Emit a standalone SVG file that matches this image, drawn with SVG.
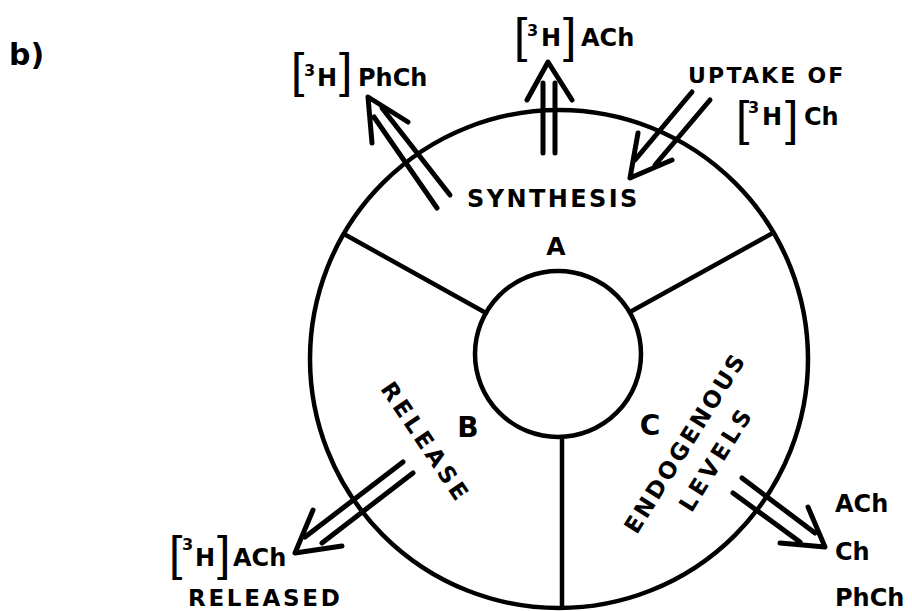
<svg xmlns="http://www.w3.org/2000/svg" width="912" height="611" viewBox="0 0 912 611">
  <style>
    text { font-family: "DejaVu Sans", "Liberation Sans", sans-serif; font-weight: bold; fill: #000; }
    .t { font-size: 24px; }
    .sup { font-size: 16px; }
    .br { font-family: "Liberation Sans", Arial, sans-serif; font-size: 48px; font-weight: normal; }
    .ln { fill: none; stroke: #000; stroke-width: 4.5; stroke-linecap: round; stroke-linejoin: round; }
    .arr { fill: none; stroke: #000; stroke-width: 5; stroke-linecap: round; stroke-linejoin: round; }
  </style>
  <rect width="912" height="611" fill="#fff"/>

  <!-- panel tag -->
  <text x="9" y="65" style="font-size:30px">b)</text>

  <!-- ring divided into three sectors around a central compartment -->
  <g id="ring">
    <circle class="ln" cx="559" cy="359" r="249"/>
    <circle class="ln" cx="558" cy="354" r="83"/>
    <path class="ln" d="M344,234 L486,313 M771,234 L630,312 M562,437 L562,607"/>
  </g>

  <g id="sector-a">
    <text x="556" y="255" text-anchor="middle" style="font-size:25px">A</text>
    <text class="t" x="467" y="207" style="letter-spacing:2.4px">SYNTHESIS</text>
  </g>

  <g id="sector-b">
    <text x="468" y="437" text-anchor="middle" style="font-size:28px">B</text>
    <text transform="translate(419,447) rotate(56)" text-anchor="middle" style="font-size:23px;letter-spacing:3.8px">RELEASE</text>
  </g>

  <g id="sector-c">
    <text x="650" y="435" text-anchor="middle" style="font-size:28px">C</text>
    <text transform="translate(692,447) rotate(-58)" text-anchor="middle" style="font-size:23px;letter-spacing:2.6px">ENDOGENOUS</text>
    <text transform="translate(723,463) rotate(-58)" text-anchor="middle" style="font-size:23px;letter-spacing:4px">LEVELS</text>
  </g>

  <!-- open double-line arrows -->
  <g id="arrows">
    <path class="arr" d="M372,143 L368,97 L408,122 M374,117 L437,208 M382,108 L450,195"/>
    <path class="arr" d="M527,100 L548,62 L572,100 M543,83 L543,153 M555,83 L555,153"/>
    <path class="arr" d="M638,133 L630,178 L672,160 M692,92 L635,160 M710,100 L655,165"/>
    <path class="arr" d="M313,510 L295,553 L342,546 M403,462 L305,537 M413,473 L322,543"/>
    <path class="arr" d="M808,507 L825,547 L780,543 M742,478 L815,533 M733,493 L800,542"/>
  </g>

  <!-- outside labels -->
  <g id="label-phch">
    <text class="br" x="291" y="87">[</text>
    <text class="sup" x="304" y="76">3</text>
    <text class="t" x="317" y="86">H</text>
    <text class="br" x="339" y="87">]</text>
    <text class="t" x="358" y="86">PhCh</text>
  </g>

  <g id="label-ach-synth">
    <text class="br" x="514" y="52">[</text>
    <text class="sup" x="527" y="36">3</text>
    <text class="t" x="541" y="46">H</text>
    <text class="br" x="563" y="52">]</text>
    <text class="t" x="581" y="46">ACh</text>
  </g>

  <g id="label-uptake">
    <text x="688" y="83" style="font-size:22px;letter-spacing:2.2px">UPTAKE OF</text>
    <text class="br" x="736" y="135">[</text>
    <text class="sup" x="748" y="113">3</text>
    <text class="t" x="762" y="125">H</text>
    <text class="br" x="785" y="135">]</text>
    <text class="t" x="804" y="125">Ch</text>
  </g>

  <g id="label-released">
    <text class="br" x="169" y="570">[</text>
    <text class="sup" x="182" y="550">3</text>
    <text class="t" x="195" y="566">H</text>
    <text class="br" x="217" y="570">]</text>
    <text class="t" x="233" y="566">ACh</text>
    <text x="188" y="606" style="font-size:23px;letter-spacing:2.7px">RELEASED</text>
  </g>

  <g id="label-levels">
    <text class="t" x="835" y="512">ACh</text>
    <text class="t" x="835" y="560">Ch</text>
    <text class="t" x="835" y="606">PhCh</text>
  </g>
</svg>
